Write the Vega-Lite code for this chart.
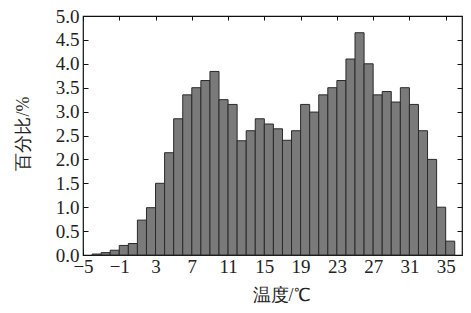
{
  "$schema": "https://vega.github.io/schema/vega-lite/v6.json",
  "width": 379,
  "height": 239,
  "autosize": {"type": "none"},
  "padding": {"left": 83, "top": 16, "right": 9, "bottom": 58},
  "background": "white",
  "config": {
    "font": "Times New Roman",
    "view": {"stroke": "#111", "strokeWidth": 1.2},
    "axis": {
      "grid": false,
      "domain": false,
      "tickColor": "#111",
      "tickWidth": 1,
      "labelFont": "Times New Roman",
      "labelFontSize": 19,
      "labelColor": "#222",
      "titleFont": "Times New Roman",
      "titleFontSize": 18,
      "titleFontWeight": "normal",
      "titleColor": "#222"
    }
  },
  "data": {
    "values": [
      {"t0": -4, "t1": -3, "pct": 0.02},
      {"t0": -3, "t1": -2, "pct": 0.05},
      {"t0": -2, "t1": -1, "pct": 0.1},
      {"t0": -1, "t1": 0, "pct": 0.2},
      {"t0": 0, "t1": 1, "pct": 0.24},
      {"t0": 1, "t1": 2, "pct": 0.73},
      {"t0": 2, "t1": 3, "pct": 0.99},
      {"t0": 3, "t1": 4, "pct": 1.5},
      {"t0": 4, "t1": 5, "pct": 2.14},
      {"t0": 5, "t1": 6, "pct": 2.85},
      {"t0": 6, "t1": 7, "pct": 3.35},
      {"t0": 7, "t1": 8, "pct": 3.5},
      {"t0": 8, "t1": 9, "pct": 3.65},
      {"t0": 9, "t1": 10, "pct": 3.84},
      {"t0": 10, "t1": 11, "pct": 3.25},
      {"t0": 11, "t1": 12, "pct": 3.15},
      {"t0": 12, "t1": 13, "pct": 2.39},
      {"t0": 13, "t1": 14, "pct": 2.6},
      {"t0": 14, "t1": 15, "pct": 2.85},
      {"t0": 15, "t1": 16, "pct": 2.74},
      {"t0": 16, "t1": 17, "pct": 2.64},
      {"t0": 17, "t1": 18, "pct": 2.4},
      {"t0": 18, "t1": 19, "pct": 2.6},
      {"t0": 19, "t1": 20, "pct": 3.15},
      {"t0": 20, "t1": 21, "pct": 2.99},
      {"t0": 21, "t1": 22, "pct": 3.35},
      {"t0": 22, "t1": 23, "pct": 3.5},
      {"t0": 23, "t1": 24, "pct": 3.65},
      {"t0": 24, "t1": 25, "pct": 4.1},
      {"t0": 25, "t1": 26, "pct": 4.65},
      {"t0": 26, "t1": 27, "pct": 4.0},
      {"t0": 27, "t1": 28, "pct": 3.35},
      {"t0": 28, "t1": 29, "pct": 3.42},
      {"t0": 29, "t1": 30, "pct": 3.2},
      {"t0": 30, "t1": 31, "pct": 3.5},
      {"t0": 31, "t1": 32, "pct": 3.15},
      {"t0": 32, "t1": 33, "pct": 2.6},
      {"t0": 33, "t1": 34, "pct": 2.0},
      {"t0": 34, "t1": 35, "pct": 1.0},
      {"t0": 35, "t1": 36, "pct": 0.29}
    ]
  },
  "layer": [
    {
      "mark": {"type": "bar", "fill": "#7a7a7a", "stroke": "#2a2a2a", "strokeWidth": 1, "opacity": 1},
      "encoding": {
        "x": {
          "field": "t0", "type": "quantitative",
          "scale": {"domain": [-5, 36.8], "nice": false, "zero": false},
          "axis": {
            "orient": "bottom",
            "values": [-5, -1, 3, 7, 11, 15, 19, 23, 27, 31, 35],
            "tickSize": -5,
            "labelPadding": 7,
            "labelFlush": false,
            "labelOverlap": false,
            "title": "温度/℃",
            "titleX": 198,
            "titleY": 40,
            "titleBaseline": "middle",
            "titleAnchor": "middle"
          }
        },
        "x2": {"field": "t1"},
        "y": {
          "field": "pct", "type": "quantitative",
          "scale": {"domain": [0, 5], "nice": false},
          "axis": {
            "orient": "left",
            "values": [0, 0.5, 1, 1.5, 2, 2.5, 3, 3.5, 4, 4.5, 5],
            "format": ".1f",
            "tickSize": -5,
            "labelPadding": 9,
            "labelFlush": false,
            "labelOverlap": false,
            "title": "百分比/%",
            "titleX": -60,
            "titleY": 117,
            "titleAngle": -90,
            "titleBaseline": "middle",
            "titleAnchor": "middle"
          }
        },
        "y2": {"datum": 0}
      }
    },
    {
      "mark": {"type": "bar", "opacity": 0},
      "encoding": {
        "x": {
          "field": "t0", "type": "quantitative",
          "axis": {
            "orient": "top",
            "values": [-5, -1, 3, 7, 11, 15, 19, 23, 27, 31, 35],
            "tickSize": -4,
            "labels": false,
            "title": null
          }
        },
        "x2": {"field": "t1"},
        "y": {
          "field": "pct", "type": "quantitative",
          "axis": {
            "orient": "right",
            "values": [0, 0.5, 1, 1.5, 2, 2.5, 3, 3.5, 4, 4.5, 5],
            "tickSize": -5,
            "labels": false,
            "title": null
          }
        },
        "y2": {"datum": 0}
      }
    }
  ],
  "resolve": {"axis": {"x": "independent", "y": "independent"}}
}
